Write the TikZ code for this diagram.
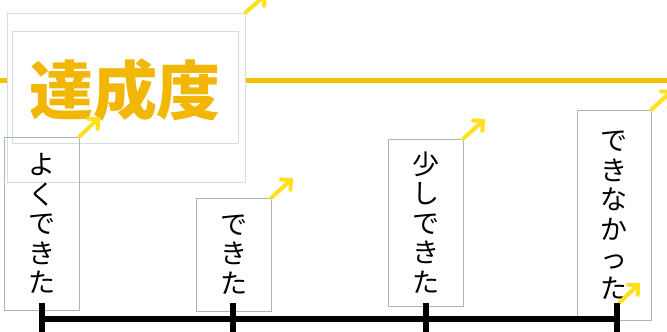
\documentclass[tikz,border=0pt]{standalone}
\usepackage{fontspec}
\newfontfamily\cjk{Noto Sans CJK JP}
\usetikzlibrary{arrows.meta}
\definecolor{gold}{HTML}{F2B705}
\definecolor{goldline}{HTML}{F5C200}
\definecolor{yarrow}{HTML}{FFE01A}
\definecolor{boxline}{HTML}{A8B4C4}
\definecolor{faint}{HTML}{D6DCE4}
\tikzset{
  vbox/.style={draw=boxline, line width=0.8pt, inner sep=0pt, minimum width=75pt,
    align=center, font=\cjk\fontsize{27}{29.5}\selectfont},
  frame/.style={draw=faint, line width=0.8pt, inner sep=0pt},
  handle/.style={draw=yarrow, line width=4pt, line cap=round,
    -{Straight Barb[length=7pt,width=14pt,line cap=round]}},
  scale line/.style={draw=black, line width=5.5pt},
}
\begin{document}
\begin{tikzpicture}[x=1pt,y=-1pt]
\useasboundingbox (0,0) rectangle (667,332);
% yellow horizontal line
\coordinate (yl) at (0,80);
\coordinate (yr) at (667,80);
\draw[goldline, line width=5pt] (yl) -- (yr);
% title frames
\node[frame, fill=white, minimum width=238pt, minimum height=169pt] (outer) at (126,97.5) {};
\node[frame, minimum width=226pt, minimum height=112pt] (inner) at (125,87) {};
\node[text=gold, font=\cjk\bfseries\fontsize{64}{64}\selectfont, inner sep=0pt] (title) at (125,90) {達成度};
% vertical label boxes
\node[vbox, minimum height=173pt] (b1) at (41.5,223.5) {よ\\く\\で\\き\\た};
\node[vbox, minimum height=113pt] (b2) at (233.5,254.5) {で\\き\\た};
\node[vbox, minimum height=167pt] (b3) at (425.5,222.5) {少\\し\\で\\き\\た};
\node[vbox, minimum height=210pt, minimum width=74pt] (b4) at (614,215) {で\\き\\な\\か\\っ\\た};
% yellow handles
\coordinate (h0) at (267,-6);
\coordinate (h1) at (100,117);
\coordinate (h2) at (293,178);
\coordinate (h3) at (485,119);
\coordinate (h4) at (673,90);
\coordinate (h5s) at (619,303);
\coordinate (h5e) at (640,283);
\draw[handle] (outer.north east) -- (h0);
\draw[handle] (b1.north east) -- (h1);
\draw[handle] (b2.north east) -- (h2);
\draw[handle] (b3.north east) -- (h3);
\draw[handle] (b4.north east) -- (h4);
\draw[handle] (h5s) -- (h5e);
% black scale
\coordinate (t1) at (42,319);
\coordinate (t2) at (233,319);
\coordinate (t3) at (426,319);
\coordinate (t4) at (617,319);
\coordinate (t1a) at (42,303);
\coordinate (t2a) at (233,303);
\coordinate (t3a) at (426,303);
\coordinate (t4a) at (617,303);
\coordinate (t1b) at (42,334);
\coordinate (t2b) at (233,334);
\coordinate (t3b) at (426,334);
\coordinate (t4b) at (617,334);
\draw[scale line] (t1) -- (t4);
\draw[scale line] (t1a) -- (t1b);
\draw[scale line] (t2a) -- (t2b);
\draw[scale line] (t3a) -- (t3b);
\draw[scale line] (t4a) -- (t4b);
\end{tikzpicture}
\end{document}
